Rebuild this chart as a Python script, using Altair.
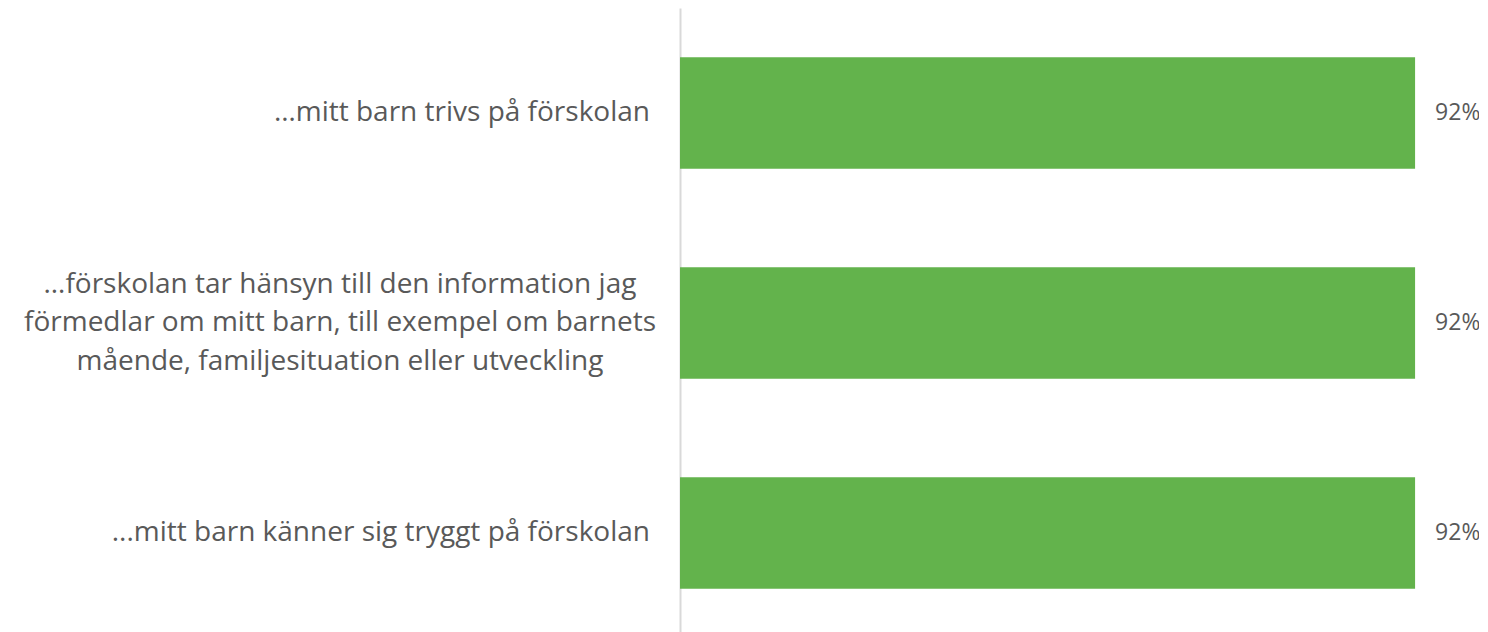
import altair as alt
import pandas as pd

categories = [
    "…mitt barn trivs på förskolan",
    "…förskolan tar hänsyn till den information jag\nförmedlar om mitt barn, till exempel om barnets\nmående, familjesituation eller utveckling",
    "...mitt barn känner sig tryggt på förskolan",
]
values = [0.92, 0.92, 0.92]
value_labels = ["92%", "92%", "92%"]
multiline = [False, True, False]

df = pd.DataFrame({"cat": categories, "value": values, "lab": value_labels, "multi": multiline})

FONT = "Open Sans"
TXT = "#595959"

y_enc = alt.Y("cat:N", sort=categories, title=None,
              scale=alt.Scale(paddingInner=0.47, paddingOuter=0.235),
              axis=alt.Axis(labels=False, ticks=False, domain=True,
                            domainColor="#d9d9d9", domainWidth=2, grid=False))

base = alt.Chart(df)

bars = base.mark_bar(color="#63B34C").encode(
    x=alt.X("value:Q", scale=alt.Scale(domain=[0, 1]), axis=None),
    y=y_enc,
)

vals = base.mark_text(align="left", baseline="middle", dx=20, font=FONT,
                      fontSize=23, color=TXT).encode(
    x="value:Q", y=alt.Y("cat:N", sort=categories), text="lab:N")

lab_single = base.transform_filter("!datum.multi").mark_text(
    align="right", baseline="middle", font=FONT, fontSize=28, color=TXT
).encode(x=alt.value(-30), y=alt.Y("cat:N", sort=categories), text="cat:N")

lab_multi = base.transform_filter("datum.multi").mark_text(
    align="center", baseline="middle", font=FONT, fontSize=28, color=TXT,
    lineBreak="\n", lineHeight=38.5, dy=-38.5
).encode(x=alt.value(-340), y=alt.Y("cat:N", sort=categories), text="cat:N")

chart = alt.layer(bars, vals, lab_single, lab_multi).properties(
    width=799, height=630,
    autosize=alt.AutoSizeParams(type="none"),
    padding={"left": 672, "top": 0, "right": 0, "bottom": 0},
).configure_view(stroke=None)

chart.save("out.html", embed_options={"renderer": "svg", "actions": False})
